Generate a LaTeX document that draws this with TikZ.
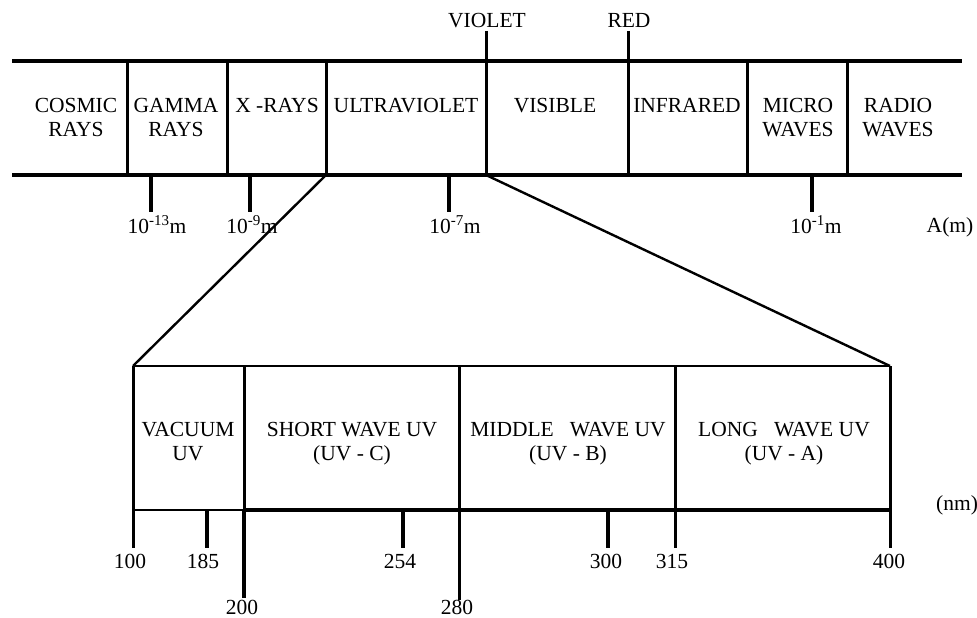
\documentclass[tikz,border=0pt]{standalone}
\usepackage{fontspec}
\setmainfont{Liberation Serif}
\begin{document}
\begin{tikzpicture}[x=1pt,y=-1pt,
  lbl/.style={font=\fontsize{21.5}{24}\selectfont, inner sep=0pt, align=center, anchor=base},
  bandline/.style={line width=3.4pt},
  divider/.style={line width=3pt},
  tick/.style={line width=3.2pt},
  thinline/.style={line width=2.6pt},
  boldline/.style={line width=4.2pt},
  zoomline/.style={line width=2.4pt}]
\useasboundingbox (0,0) rectangle (977,618);
% ---------- top band coordinates ----------
\coordinate (TL) at (12,61);   \coordinate (TR) at (962,61);
\coordinate (BL) at (12,175);  \coordinate (BR) at (962,175);
\coordinate (uvL) at (326,175); \coordinate (uvR) at (486,175);
% band outline
\draw[bandline] (TL) -- (TR);
\draw[bandline] (BL) -- (BR);
% dividers
\foreach \x in {127,227,326,747,847} \draw[divider] (\x,61) -- (\x,175);
\coordinate (vioTop) at (486,31); \coordinate (redTop) at (628,31);
\draw[divider] (vioTop) -- (uvR);
\draw[divider] (redTop) -- (628,175);
% ticks
\foreach \x in {151,250,449,812} \draw[tick] (\x,175) -- (\x,212);
% band labels
\node[lbl] (vio) at (487,28) {VIOLET};
\node[lbl] (red) at (629,28) {RED};
\node[lbl] (cosmic) at (76,136) {COSMIC\\RAYS};
\node[lbl] (gamma) at (176,136) {GAMMA\\RAYS};
\node[lbl] (xray) at (277,112) {X -RAYS};
\node[lbl] (uv) at (406,112) {ULTRAVIOLET};
\node[lbl] (vis) at (555,112) {VISIBLE};
\node[lbl] (ir) at (687,112) {INFRARED};
\node[lbl] (micro) at (798,136) {MICRO\\WAVES};
\node[lbl] (radio) at (898,136) {RADIO\\WAVES};
% wavelength labels
\node[lbl] (w13) at (157,233) {10\textsuperscript{-13}m};
\node[lbl] (w9) at (252,233) {10\textsuperscript{-9}m};
\node[lbl] (w7) at (455,233) {10\textsuperscript{-7}m};
\node[lbl] (w1) at (816,233) {10\textsuperscript{-1}m};
\node[lbl] (am) at (950,232) {A(m)};
% ---------- lower box ----------
\coordinate (lTL) at (133,366); \coordinate (lTR) at (890,366);
\coordinate (lBL) at (133,510); \coordinate (lBR) at (890,510);
\coordinate (l200) at (244,510);
\draw[zoomline] (uvL) -- (lTL);
\draw[zoomline] (uvR) -- (lTR);
\draw[thinline] (lTL) -- (lTR);
\draw[thinline] (lBL) -- (l200);
\draw[boldline] (l200) -- (lBR);
\draw[divider] (lTL) -- (133,548);
\draw[divider] (lTR) -- (890,548);
\draw[divider] (244,366) -- (244,510);
\draw[boldline] (244,510) -- (244,598);
\draw[divider] (459,366) -- (459,600);
\draw[divider] (675,366) -- (675,548);
\foreach \x in {207,403,608} \draw[tick] (\x,510) -- (\x,548);
% cell labels
\node[lbl] (vac) at (188,460) {VACUUM\\UV};
\node[lbl] (sw) at (352,460) {SHORT WAVE UV\\(UV - C)};
\node[lbl] (mw) at (568,460) {MIDDLE\enspace\ WAVE UV\\(UV - B)};
\node[lbl] (lw) at (784,460) {LONG\enspace\ WAVE UV\\(UV - A)};
% nm labels
\node[lbl] (n100) at (130,568) {100};
\node[lbl] (n185) at (203,568) {185};
\node[lbl] (n254) at (400,568) {254};
\node[lbl] (n300) at (606,568) {300};
\node[lbl] (n315) at (672,568) {315};
\node[lbl] (n400) at (889,568) {400};
\node[lbl] (n200) at (242,614) {200};
\node[lbl] (n280) at (457,614) {280};
\node[lbl] (nm) at (957,510) {(nm)};
\end{tikzpicture}
\end{document}
